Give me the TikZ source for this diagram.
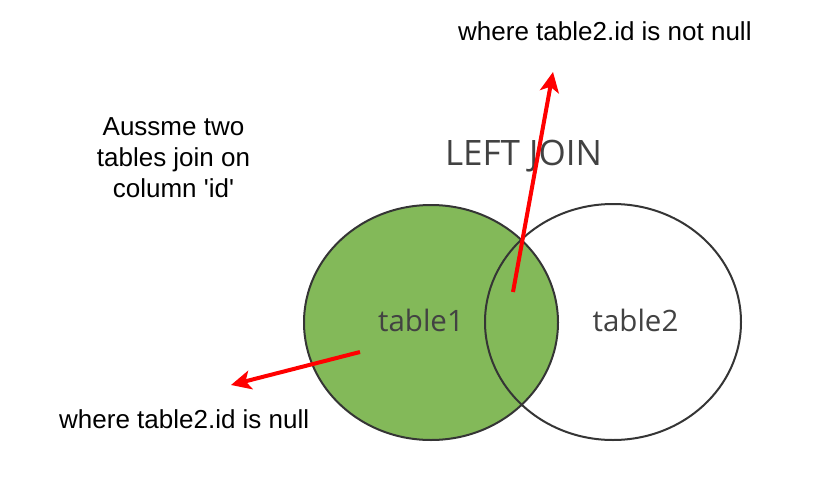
\documentclass[tikz,border=0pt]{standalone}
\usepackage{fontspec}
\setmainfont{Liberation Sans}
\newfontfamily\vennfont{Open Sans}
\usetikzlibrary{arrows.meta}
\definecolor{venngreen}{HTML}{83B959}
\definecolor{vennedge}{HTML}{353535}
\definecolor{venntext}{HTML}{424242}
\begin{document}
\begin{tikzpicture}[x=1pt,y=-1pt,
  note/.style={font=\fontsize{26}{31}\selectfont, text=black, inner sep=0pt, align=center},
  venntxt/.style={font=\vennfont\fontsize{29.5}{32}\selectfont, text=venntext, inner sep=0pt},
  edge/.style={draw=vennedge, line width=2pt},
  redarrow/.style={draw=red, line width=4pt, -{Stealth[length=20pt,width=19pt,inset=5pt]}}]
\path[use as bounding box, fill=white] (0,0) rectangle (831,490);
% Venn
\fill[venngreen] (431,322.5) ellipse [x radius=127, y radius=117.5];
\draw[edge] (613,322) ellipse [x radius=128, y radius=118];
\draw[edge] (431,322.5) ellipse [x radius=127, y radius=117.5];
\node[venntxt, font=\vennfont\fontsize{35}{38}\selectfont] (title) at (523.5,156) {LEFT JOIN};
\node[venntxt] (t1) at (421,320) {table1};
\node[venntxt] (t2) at (635.5,320) {table2};
% notes
\node[note, anchor=base] (assume) at (173.5,197) {Aussme two\\tables join on\\column \textquotesingle id\textquotesingle};
\node[note, anchor=base west] (notnull) at (458,40) {where table2.id is not null};
\node[note, anchor=base west] (isnull) at (59,428) {where table2.id is null};
% arrows
\coordinate (s1) at (513,292);
\coordinate (e1) at (553,72);
\coordinate (s2) at (360,352);
\coordinate (e2) at (231,385);
\draw[redarrow] (s1) -- (e1);
\draw[redarrow] (s2) -- (e2);
\end{tikzpicture}
\end{document}
